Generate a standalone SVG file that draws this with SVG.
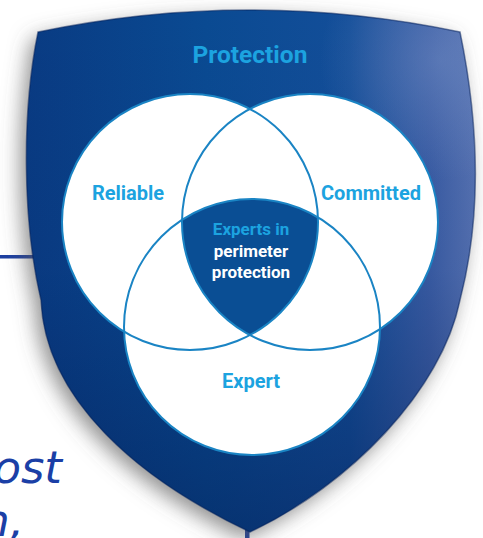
<svg xmlns="http://www.w3.org/2000/svg" width="483" height="538" viewBox="0 0 483 538">
  <style>
    .venn { fill: #ffffff; }
    .ring { fill: none; stroke: #1a84c4; stroke-width: 2; }
    .lbl { font-family: Roboto, "Liberation Sans", sans-serif; font-weight: bold; fill: #1ca3e0; text-anchor: middle; }
    .white { fill: #ffffff; }
    .side { font-family: "DejaVu Sans", Verdana, sans-serif; font-style: italic; fill: #1b3fa6; font-size: 45px; text-anchor: end; }
  </style>
  <defs>
    <path id="shieldShape" d="M38,32 Q250,-12 460,32 C474,100 486,200 460,300 C442,390 350,485 250,532 C140,480 45,400 41,300 C22,220 22,110 38,32 Z"/>
    <linearGradient id="gH" x1="0" y1="0" x2="1" y2="0">
      <stop offset="0" stop-color="#093b83"/>
      <stop offset="0.4" stop-color="#0a4a92"/>
      <stop offset="0.72" stop-color="#134e99"/>
      <stop offset="0.9" stop-color="#3a5da5"/>
      <stop offset="1" stop-color="#5672b2"/>
    </linearGradient>
    <linearGradient id="gV" x1="0" y1="0" x2="0" y2="1">
      <stop offset="0" stop-color="#001040" stop-opacity="0"/>
      <stop offset="0.5" stop-color="#001040" stop-opacity="0.05"/>
      <stop offset="1" stop-color="#001040" stop-opacity="0.4"/>
    </linearGradient>
    <radialGradient id="gHi" cx="440" cy="60" r="120" gradientUnits="userSpaceOnUse">
      <stop offset="0" stop-color="#7a94c8" stop-opacity="0.45"/>
      <stop offset="1" stop-color="#7a94c8" stop-opacity="0"/>
    </radialGradient>
    <filter id="shadow" x="-20%" y="-20%" width="140%" height="140%">
      <feGaussianBlur in="SourceAlpha" stdDeviation="10"/>
      <feOffset dx="-6" dy="7" result="b"/>
      <feFlood flood-color="#555555" flood-opacity="0.65"/>
      <feComposite in2="b" operator="in"/>
    </filter>
    <clipPath id="clipL"><circle cx="190" cy="222" r="128"/></clipPath>
    <clipPath id="clipR"><circle cx="310" cy="222" r="128"/></clipPath>
  </defs>

  <rect x="0" y="0" width="483" height="538" fill="#ffffff"/>

  <g id="side-text">
    <rect x="0" y="255" width="40" height="3.5" fill="#1d3fa0"/>
    <rect x="245" y="525" width="4.5" height="13" fill="#1d3fa0"/>
    <text class="side" x="62" y="483">ost</text>
    <text class="side" x="24" y="536">n,</text>
  </g>

  <g id="shield">
    <use href="#shieldShape" filter="url(#shadow)"/>
    <use href="#shieldShape" fill="url(#gH)"/>
    <use href="#shieldShape" fill="url(#gV)"/>
    <use href="#shieldShape" fill="url(#gHi)"/>
    <use href="#shieldShape" fill="none" stroke="#03205a" stroke-opacity="0.5" stroke-width="1.5"/>
    <text class="lbl" x="250" y="63" font-size="24.5">Protection</text>
  </g>

  <g id="circle-reliable">
    <circle class="venn" cx="190" cy="222" r="128"/>
  </g>
  <g id="circle-committed">
    <circle class="venn" cx="310" cy="222" r="128"/>
  </g>
  <g id="circle-expert">
    <circle class="venn" cx="252" cy="327" r="128"/>
  </g>

  <g id="center">
    <g clip-path="url(#clipL)">
      <g clip-path="url(#clipR)">
        <circle cx="252" cy="327" r="128" fill="#0a4e94"/>
      </g>
    </g>
  </g>

  <g id="rings">
    <circle class="ring" cx="190" cy="222" r="128"/>
    <circle class="ring" cx="310" cy="222" r="128"/>
    <circle class="ring" cx="252" cy="327" r="128"/>
  </g>

  <g id="labels">
    <text class="lbl" x="128" y="200" font-size="20">Reliable</text>
    <text class="lbl" x="371" y="200" font-size="20">Committed</text>
    <text class="lbl" x="251" y="388" font-size="20">Expert</text>
    <text class="lbl" x="251" y="235" font-size="17">Experts in</text>
    <text class="lbl white" x="251" y="257" font-size="17">perimeter</text>
    <text class="lbl white" x="251" y="278" font-size="17">protection</text>
  </g>
</svg>
